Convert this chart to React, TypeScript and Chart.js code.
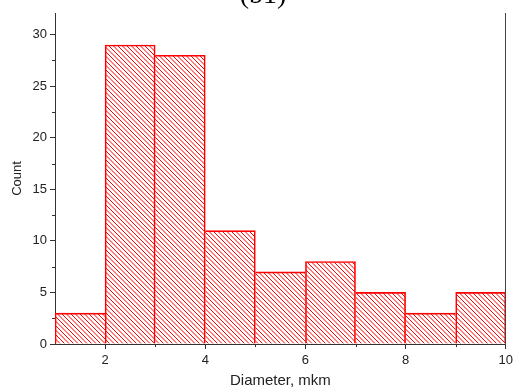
import React, { useEffect, useRef } from "react";
import { Chart, registerables } from "chart.js";

Chart.register(...registerables);

// ---- data ----
const binStarts = [1, 2, 3, 4, 5, 6, 7, 8, 9];
const binWidth = 1;
const counts = [3, 29, 28, 11, 7, 8, 5, 3, 5];
const xTicks = [2, 4, 6, 8, 10];
const xMinorTicks = [3, 5, 7, 9];
const yTicks = [0, 5, 10, 15, 20, 25, 30];
const yMinorTicks = [2.5, 7.5, 12.5, 17.5, 22.5, 27.5];
const xTitle = "Diameter, mkm";
const yTitle = "Count";
const panelLabel = "(b1)";

const FONT = '"Liberation Sans", Arial, sans-serif';

function makeHatch(ctx: CanvasRenderingContext2D) {
  const s = 9;
  const c = document.createElement("canvas");
  c.width = s;
  c.height = s;
  const g = c.getContext("2d")!;
  g.strokeStyle = "#ff0000";
  g.lineWidth = 1;
  g.beginPath();
  for (const off of [-s, -s / 2, 0, s / 2, s]) {
    g.moveTo(off, 0);
    g.lineTo(off + s, s);
  }
  g.stroke();
  return ctx.createPattern(c, "repeat");
}

// each shared edge is drawn once, by the taller of the two neighbouring bars
function edgeWidths(i: number) {
  const last = counts.length - 1;
  const left = i === 0 || counts[i - 1] <= counts[i] ? 1 : 0;
  const right = i === last || counts[i + 1] < counts[i] ? 1 : 0;
  return { top: 1, left, right, bottom: 0 };
}

const decorations = {
  id: "decorations",
  afterDraw(chart: any) {
    const { ctx, chartArea, scales } = chart;
    const x = scales.x;
    const y = scales.y;
    ctx.save();
    ctx.strokeStyle = "#333";
    ctx.lineWidth = 1;
    ctx.beginPath();
    xMinorTicks.forEach((v) => {
      const px = Math.round(x.getPixelForValue(v)) + 0.5;
      ctx.moveTo(px, chartArea.bottom);
      ctx.lineTo(px, chartArea.bottom + 3);
    });
    yMinorTicks.forEach((v) => {
      const py = Math.round(y.getPixelForValue(v)) + 0.5;
      ctx.moveTo(chartArea.left - 3, py);
      ctx.lineTo(chartArea.left, py);
    });
    ctx.stroke();
    ctx.strokeStyle = "#444";
    ctx.beginPath();
    const rx = Math.round(chartArea.right) - 0.5;
    ctx.moveTo(rx, chartArea.top);
    ctx.lineTo(rx, chartArea.bottom);
    ctx.stroke();
    ctx.fillStyle = "#000";
    ctx.font = '28px "Liberation Serif", serif';
    ctx.textAlign = "center";
    ctx.textBaseline = "alphabetic";
    ctx.fillText(panelLabel, 263, 3);
    ctx.restore();
  },
};

export default function App() {
  const ref = useRef<HTMLCanvasElement | null>(null);
  useEffect(() => {
    document.body.style.margin = "0";
    const canvas = ref.current!;
    const ctx = canvas.getContext("2d")!;
    const hatch = makeHatch(ctx);
    const chart = new Chart(ctx, {
      type: "bar",
      data: {
        datasets: [
          {
            data: binStarts.map((s, i) => ({ x: s + binWidth / 2, y: counts[i] })),
            backgroundColor: hatch as any,
            borderColor: "#ff0000",
            borderWidth: (c: any) => edgeWidths(c.dataIndex),
            borderSkipped: false,
            barPercentage: 1,
            categoryPercentage: 1,
          },
        ],
      },
      options: {
        responsive: false,
        animation: false,
        events: [],
        layout: { padding: { left: 0, right: 10, top: 13, bottom: 0 } },
        plugins: {
          legend: { display: false },
          tooltip: { enabled: false },
          title: { display: false },
        },
        scales: {
          x: {
            type: "linear",
            min: 1,
            max: 10,
            offset: false,
            afterBuildTicks: (s: any) => {
              s.ticks = xTicks.map((v) => ({ value: v }));
            },
            afterFit: (s: any) => {
              s.height = 48;
            },
            grid: {
              offset: false,
              drawOnChartArea: false,
              drawTicks: true,
              tickLength: 5,
              color: "#333",
            },
            border: { display: true, color: "#333", width: 1 },
            ticks: {
              padding: 4,
              maxRotation: 0,
              color: "#222",
              font: { family: FONT, size: 13 },
            },
            title: {
              display: true,
              text: xTitle,
              color: "#222",
              font: { family: FONT, size: 15 },
              padding: { top: 0, bottom: 2 },
            },
          },
          y: {
            type: "linear",
            min: 0,
            max: 32.1,
            afterBuildTicks: (s: any) => {
              s.ticks = yTicks.map((v) => ({ value: v }));
            },
            afterFit: (s: any) => {
              s.width = 55;
            },
            grid: {
              drawOnChartArea: false,
              drawTicks: true,
              tickLength: 5,
              color: "#333",
            },
            border: { display: true, color: "#333", width: 1 },
            ticks: {
              padding: 3,
              color: "#222",
              font: { family: FONT, size: 13 },
            },
            title: {
              display: true,
              text: yTitle,
              color: "#222",
              font: { family: FONT, size: 13 },
              padding: { top: 10, bottom: 0 },
            },
          },
        },
      } as any,
      plugins: [decorations],
    });
    return () => chart.destroy();
  }, []);
  return (
    <div style={{ position: "fixed", left: 0, top: 0, width: 517, height: 392, background: "#fff" }}>
      <canvas ref={ref} width={517} height={392} style={{ width: 517, height: 392, display: "block" }} />
    </div>
  );
}
